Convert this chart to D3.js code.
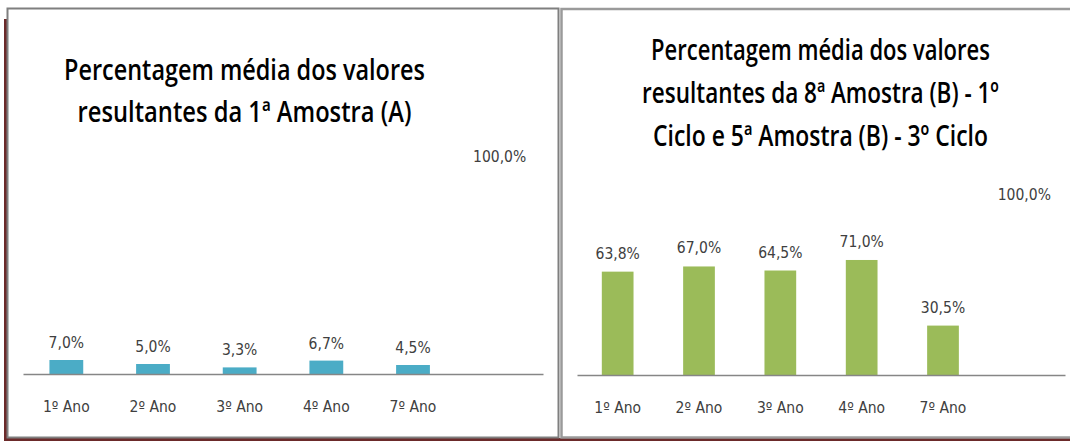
<!DOCTYPE html>
<html lang="en">
<head>
    <meta charset="UTF-8">
    <title>Percentagem média</title>
</head>
<style>
body { margin: 0; background: #fff; }
svg text { font-family: "Liberation Sans Narrow", "DejaVu Sans Condensed", sans-serif; }
svg .title { fill: #000; font-family: "Open Sans", sans-serif; font-weight: 600; font-size: 29px; text-anchor: middle; }
svg .val { fill: #404040; font-size: 15.5px; text-anchor: middle; }
svg .axis text { fill: #404040; font-size: 15.5px; }
svg .axis path { stroke: #868686; stroke-width: 1.5; }
</style>
<body>
<div id="chart"></div>
<script src="https://d3js.org/d3.v7.min.js"></script>
<script>
// categories (last one is the empty 100% reference column)
var categories = ["1º Ano", "2º Ano", "3º Ano", "4º Ano", "7º Ano", ""];
var valuesA = [0.070, 0.050, 0.033, 0.067, 0.045, 1.000];
var valuesB = [0.638, 0.670, 0.645, 0.710, 0.305, 1.000];
var titleA = ["Percentagem média dos valores", "resultantes da 1ª Amostra (A)"];
var titleB = ["Percentagem média dos valores", "resultantes da 8ª Amostra (B) - 1º", "Ciclo e 5ª Amostra (B) - 3º Ciclo"];

var fmt = function(v) { return d3.format(".1f")(v * 100).replace(".", ",") + "%"; };

var svg = d3.select("#chart").append("svg")
    .attr("width", 1070)
    .attr("height", 441);

// frames
svg.append("rect").attr("x", 4).attr("y", 19).attr("width", 3).attr("height", 422).attr("fill", "#6b2a2a");
svg.append("rect").attr("x", 4).attr("y", 438).attr("width", 1066).attr("height", 3).attr("fill", "#6b2a2a");
svg.append("rect").attr("x", 7.5).attr("y", 8.5).attr("width", 551).attr("height", 429)
    .attr("fill", "#fff").attr("stroke", "#7f7f7f").attr("stroke-width", 2);
svg.append("rect").attr("x", 561.5).attr("y", 9).attr("width", 520).attr("height", 428.5)
    .attr("fill", "#fff").attr("stroke", "#9a9a9a").attr("stroke-width", 2.5);

drawPanel({
    values: valuesA, title: titleA, color: "#4bacc6",
    x0: 23, x1: 543, yAxis: 374, yTop: 174,
    titleX: 244.5, titleY: [80, 122], titleW: [361, 334], gap: 12
});
drawPanel({
    values: valuesB, title: titleB, color: "#9bbb59",
    x0: 577, x1: 1065, yAxis: 375, yTop: 213,
    titleX: 820.5, titleY: [60, 103, 146], titleW: [339, 357, 335], gap: 13
});

function drawPanel(p) {
    var g = svg.append("g");

    var x = d3.scaleBand()
        .domain(categories)
        .range([p.x0, p.x1])
        .paddingInner(0.61)
        .paddingOuter(0.305);

    var y = d3.scaleLinear()
        .domain([0, 1])
        .range([p.yAxis, p.yTop]);

    // title lines, squeezed horizontally to the width seen in the picture
    g.selectAll(".title-line")
        .data(p.title)
        .enter().append("text")
        .attr("class", "title")
        .text(function(d) { return d; })
        .attr("transform", function(d, i) {
            var sx = p.titleW[i] / this.getComputedTextLength();
            return "translate(" + p.titleX + "," + p.titleY[i] + ") scale(" + sx + ",1)";
        });

    var rows = categories.map(function(c, i) { return { cat: c, v: p.values[i] }; });

    g.selectAll(".bar")
        .data(rows)
        .enter().append("rect")
        .attr("class", "bar")
        .attr("x", function(d) { return x(d.cat); })
        .attr("y", function(d) { return y(d.v); })
        .attr("width", x.bandwidth())
        .attr("height", function(d) { return p.yAxis - y(d.v); })
        .attr("fill", function(d) { return d.cat === "" ? "none" : p.color; });

    g.selectAll(".val")
        .data(rows)
        .enter().append("text")
        .attr("class", "val")
        .attr("x", function(d) { return x(d.cat) + x.bandwidth() / 2; })
        .attr("y", function(d) { return y(d.v) - p.gap; })
        .text(function(d) { return fmt(d.v); });

    g.append("g")
        .attr("class", "axis")
        .attr("transform", "translate(0," + p.yAxis + ")")
        .call(d3.axisBottom(x).tickSize(0).tickSizeOuter(0).tickPadding(27));
}
</script>
</body>
</html>
